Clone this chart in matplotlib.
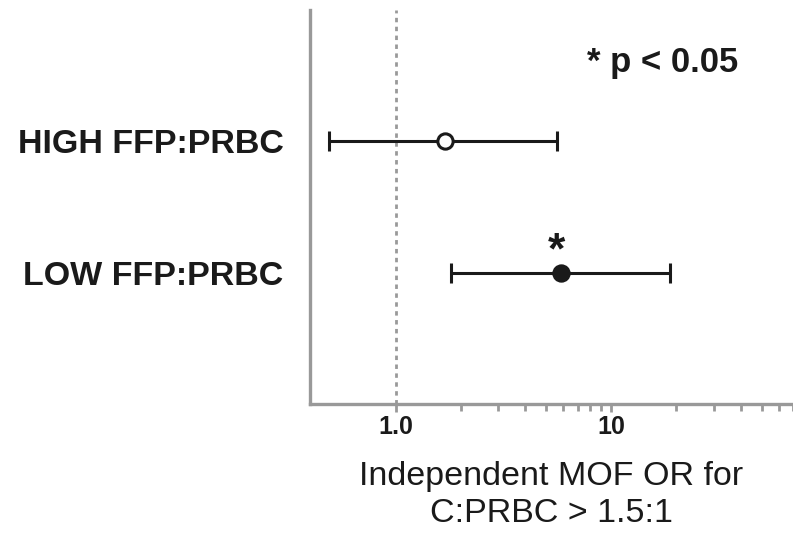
import matplotlib
matplotlib.use("Agg")
import matplotlib.pyplot as plt
from matplotlib.ticker import FixedLocator, NullFormatter

plt.rcParams["font.family"] = ["Liberation Sans", "DejaVu Sans"]

# данные: отношение шансов и 95% ДИ
groups = ["LOW FFP:PRBC", "HIGH FFP:PRBC"]
odds = [5.85, 1.69]
ci_low = [1.80, 0.49]
ci_high = [18.8, 5.6]
significant = [True, False]

GREY = "#999999"

fig = plt.figure(figsize=(7.93, 5.4), dpi=100)
ax = fig.add_axes([0.391, 0.252, 0.609, 0.729])

ypos = list(range(len(groups)))
for y, o, lo, hi, sig in zip(ypos, odds, ci_low, ci_high, significant):
    ax.errorbar([o], [y], xerr=[[o - lo], [hi - o]], fmt="none",
                ecolor="#1a1a1a", elinewidth=2.2, capsize=7, capthick=2.2,
                zorder=3)
    ax.plot([o], [y], "o", ms=11, mec="#1a1a1a", mew=2.2,
            mfc="#1a1a1a" if sig else "white", zorder=4)
    if sig:
        ax.text(o * 0.955, y + 0.07, "*", ha="center", va="baseline",
                fontsize=32, fontweight="bold", color="#1a1a1a")

ax.axvline(1.0, color=GREY, ls=(0, (1.6, 1.6)), lw=2.0, zorder=1)

ax.set_xscale("log")
ax.set_xlim(0.4, 70)
ax.set_ylim(-1.0, 2.0)

ax.set_yticks(ypos)
ax.set_yticklabels(groups, fontsize=24.5, fontweight="bold",
                   color="#1a1a1a")
ax.tick_params(axis="y", length=0, pad=19)

ax.xaxis.set_major_locator(FixedLocator([1, 10]))
ax.set_xticklabels(["1.0", "10"], fontsize=18, fontweight="bold",
                   color="#1a1a1a")
minors = [m * d for d in (1, 10) for m in range(2, 10)]
ax.xaxis.set_minor_locator(FixedLocator(minors))
ax.xaxis.set_minor_formatter(NullFormatter())
ax.tick_params(axis="x", which="major", length=6, width=2, color=GREY, pad=2)
ax.tick_params(axis="x", which="minor", length=5, width=2, color=GREY)

for side in ("top", "right"):
    ax.spines[side].set_visible(False)
for side in ("left", "bottom"):
    ax.spines[side].set_color(GREY)
    ax.spines[side].set_linewidth(2.4)

ax.set_xlabel("Independent MOF OR for\nC:PRBC > 1.5:1", fontsize=24.5,
              labelpad=16, linespacing=1.25, color="#1a1a1a")

ax.text(0.731, 0.868, "* p < 0.05", transform=ax.transAxes, ha="center",
        va="center", fontsize=25, fontweight="bold", color="#1a1a1a")

fig.savefig("out.png", dpi=100)
